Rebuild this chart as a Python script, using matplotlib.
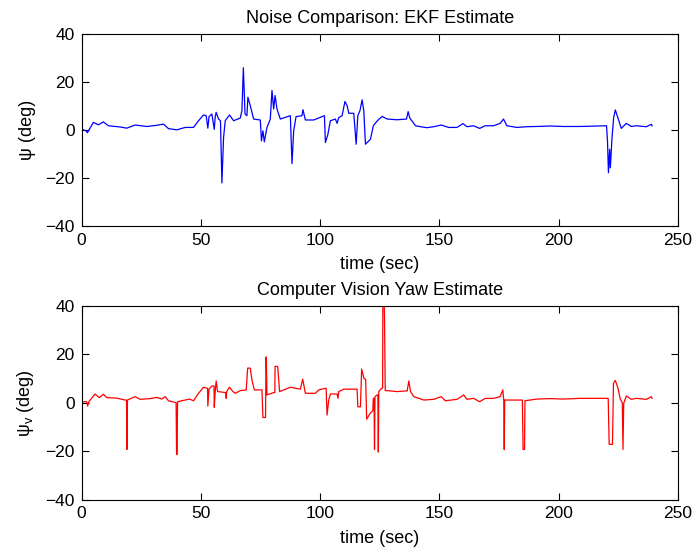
#Noise comparison: EKF estimate vs computer vision yaw
import numpy as np
import matplotlib
matplotlib.use('Agg')
import matplotlib.pyplot as plt

plt.rcParams['font.family'] = ['Liberation Sans', 'DejaVu Sans']
plt.rcParams['mathtext.fontset'] = 'custom'
plt.rcParams['mathtext.rm'] = 'Liberation Sans'
plt.rcParams['mathtext.it'] = 'Liberation Sans'

#EKF yaw estimate
t_ekf = [0, 1.8, 2.4, 4.9, 7, 9.1, 11.2, 16.1, 18.9, 22.4, 27.3, 31.5, 34.3, 36.4, 39.9,
         43.4, 46.9, 49, 51.1, 52.2, 52.9, 53.4, 54.6, 55.6, 56.0, 56.4, 57.4, 58.2, 58.8,
         59.5, 60.2, 62, 63.7, 66.5, 67.2, 67.8, 68.5, 69.3, 69.7, 70.7, 72.1, 74.9, 75.4,
         76, 76.6, 77.7, 79.1, 79.8, 80.5, 81.1, 81.9, 83.3, 87.5, 88.2, 88.9, 89.9, 92.4,
         92.8, 93.8, 97.3, 101.8, 102.2, 103.2, 104.3, 106.4, 107.1, 107.8, 109.2, 110.4,
         111.3, 112, 114.1, 115.1, 115.8, 116.7, 117.6, 118.3, 119, 121.1, 122.3, 124,
         126, 128.1, 132.3, 136.2, 136.9, 137.6, 140, 142.1, 144.8, 147.6, 150.8, 153.9,
         157.4, 159.9, 161.6, 164.3, 166.9, 169.2, 172.7, 175.5, 176.9, 178.3, 182.5,
         186.6, 190.8, 196.4, 201.9, 208.9, 220.1, 220.5, 220.9, 221.4, 221.7, 222.4,
         223.1, 223.8, 224.9, 226.3, 228.4, 230.5, 232.6, 236.8, 238.9, 239.2]
psi_ekf = [0.3, -0.3, -1.1, 3.2, 2.2, 3.4, 1.8, 1.3, 0.8, 2.1, 1.5, 2.0, 2.5, 0.6, 0.1,
           1.1, 1.1, 3.9, 6.3, 6.0, 0.8, 5.6, 6.7, 0.3, 5.5, 7.4, 4.6, 3.9, -22.0,
           -3.1, 3.9, 6.3, 3.9, 5.0, 8.1, 26.0, 6.7, 6.0, 13.7, 10.2, 4.6, 4.2, -4.5,
           -0.3, -4.9, 1.1, 4.6, 16.5, 8.8, 14.4, 8.8, 4.6, 6.0, -14.0, -0.3, 5.6, 6.0,
           8.5, 4.2, 4.2, 6.0, -5.2, -2.0, 3.9, 4.6, 2.8, 5.2, 6.0, 11.9,
           10.2, 7.0, 7.0, -5.9, 6.0, 8.1, 12.6, 8.1, -5.9, -3.8, 1.8, 3.9,
           5.7, 4.6, 4.3, 4.6, 7.7, 5.0, 1.8, 1.4, 1.0, 1.4, 2.1, 1.1,
           1.1, 2.7, 1.4, 1.8, 0.7, 1.8, 1.8, 2.8, 4.6, 1.8, 1.1,
           1.4, 1.5, 1.7, 1.5, 1.5, 1.8, -4.5, -17.8, -8.0, -15.7, -3.1,
           5.3, 8.4, 5.0, 0.7, 2.8, 1.5, 1.8, 1.4, 2.4, 1.8]

#Computer vision yaw estimate
t_cv = [0, 2.1, 2.5, 3.0, 5.6, 7.4, 9.1, 10.5, 14.7, 18.2, 18.8, 19.0, 19.2, 22.4, 24.5,
        28.7, 31.5, 33.6, 35, 36.4, 39.6, 39.8, 40.0, 40.2, 43.4, 45.2, 46.9, 49, 51.1, 52.5,
        52.8, 52.9, 53.4, 54.6, 55.5, 55.6, 56, 56.4, 57, 60.4, 60.6, 60.8, 62, 63.4, 64.4,
        66.5, 69, 69.6, 70.7, 71.4, 72.4, 75.6, 76, 77.1, 77.3, 77.4, 77.7, 80.5, 81.0,
        81.1, 82.2, 83, 87.5, 91.7, 92.7, 93.8, 98, 99.4, 102.5, 102.9, 103.6, 104.3,
        107.1, 107.5, 107.8, 109.9, 115.5, 115.8, 116.9, 117.4, 118.4, 119.1, 119.5,
        121.1, 122.1, 122.3, 122.6, 122.8, 123.0, 123.9, 124.2, 124.4, 124.6, 125.8,
        126.2, 126.3, 126.9, 127.0, 127.3, 128.1, 132.3, 136.5, 137.2, 137.9, 139.3,
        143.5, 147.6, 150.8, 152.5, 157.4, 160.2, 161.6, 164.3, 166.9, 169.2, 172.7,
        175.5, 176.6, 177.0, 177.2, 177.4, 181.1, 184.8, 185.1, 185.7, 185.9, 190.8,
        196.4, 201.9, 208.9, 220.8, 221.2, 222.6, 223.0, 223.8, 224.9, 225.9, 226.7,
        227.0, 227.3, 228.4, 230.5, 232.6, 236.8, 238.9, 239.2]
psi_cv = [0.4, 0.4, -1.4, 0.4, 3.6, 2.1, 3.5, 2.1, 1.9, 1.1, 1.1, -19.3, 1.1, 2.5, 1.4,
          1.7, 2.2, 1.5, 2.5, 0.8, 0.0, -21.4, -21.4, 0.4, 1.1, 1.5, 0.8, 3.9, 6.4, 6.0,
          6.0, -1.4, 5.6, 6.9, 6.9, -1.9, 4.6, 9.0, 4.6, 4.2, 1.8, 4.6, 6.4, 4.6, 3.9,
          5.0, 5.3, 14.3, 14.3, 9.4, 5.3, 5.3, -6.1, -6.1, 18.9, 18.9, 3.2, 4.2, 4.2,
          15.0, 15.0, 4.6, 6.4, 5.6, 9.7, 3.9, 3.9, 5.3, 6.0, -5.1, 1.1, 3.6,
          3.6, 1.8, 4.6, 5.6, 5.6, -1.7, -1.7, 13.9, 9.9, 9.7, -6.8,
          -4.2, -3.3, 1.8, 1.8, -19.3, 2.5, 3.2, 3.2, -20.4, 4.6, 6.0,
          6.0, 40.0, 40.0, 34.4, 5.0, 5.0, 4.6, 4.9, 9.0, 4.6, 2.5,
          1.1, 1.4, 2.5, 0.8, 1.4, 3.2, 1.4, 1.8, 0.4, 1.8, 1.8,
          2.5, 5.3, 1.1, -19.3, 1.1, 1.1, 1.1, -19.3, -19.3, 0.8, 1.5,
          1.7, 1.5, 1.8, 1.8, -17.2, -17.2, 8.0, 9.2, 6.0, 1.4, 0.0,
          -19.3, -0.3, 2.8, 1.4, 1.8, 1.4, 2.5, 1.8]

fig = plt.figure(figsize=(6.94, 5.5), dpi=100)
ax1 = fig.add_axes([0.1177, 0.589, 0.859, 0.349])
ax2 = fig.add_axes([0.1177, 0.0918, 0.859, 0.352])

ax1.plot(t_ekf, psi_ekf, color='blue', lw=0.9)
ax1.set_title('Noise Comparison: EKF Estimate', fontsize=13, pad=8)
ax1.set_ylabel('ψ (deg)', fontsize=13, labelpad=7)
ax1.set_xlabel('time (sec)', fontsize=13, labelpad=6)

ax2.plot(t_cv, psi_cv, color='red', lw=0.9)
ax2.set_title('Computer Vision Yaw Estimate', fontsize=13, pad=8)
ax2.set_ylabel(r'$\mathregular{\psi_v}$ (deg)', fontsize=13, labelpad=7)
ax2.set_xlabel('time (sec)', fontsize=13, labelpad=6)

for ax in [ax1, ax2]:
    ax.set_xlim(0, 250)
    ax.set_ylim(-40, 40)
    ax.set_xticks([0, 50, 100, 150, 200, 250])
    ax.set_yticks([-40, -20, 0, 20, 40])
    ax.tick_params(direction='in', top=True, right=True, labelsize=12.5, length=5, pad=5)

plt.savefig('out.png', dpi=100)
